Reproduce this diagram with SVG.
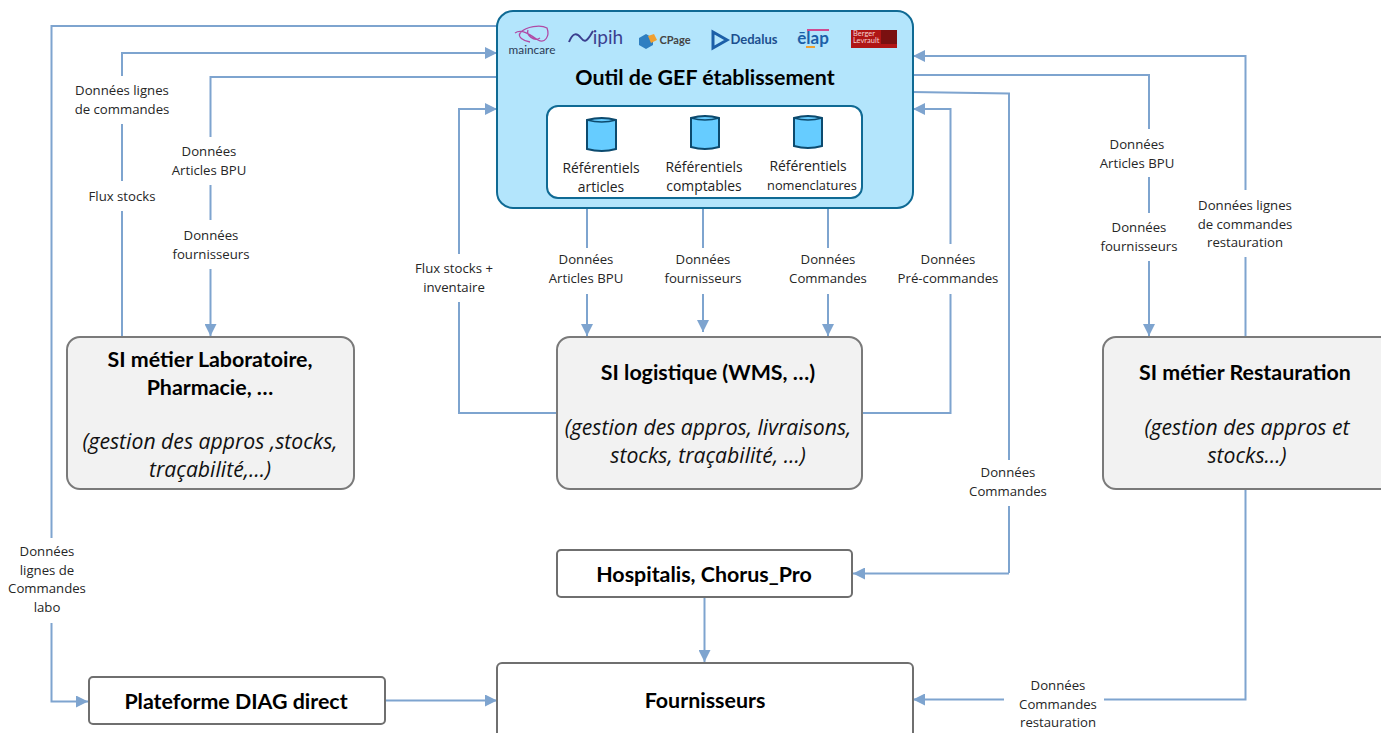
<svg xmlns="http://www.w3.org/2000/svg" width="1381" height="733" viewBox="0 0 1381 733">
<style>
.c{fill:none;stroke:#7ea4cf;stroke-width:2}
.ca{fill:none;stroke:#7ea4cf;stroke-width:2;marker-end:url(#a)}
.l{font:13.2px "Open Sans",sans-serif;fill:#262626;text-anchor:middle}
.r{font:13.9px "Open Sans",sans-serif;fill:#222;text-anchor:middle}
.t{font:bold 21.4px Lato,"Liberation Sans",sans-serif;fill:#000;text-anchor:middle}
.i{font:italic 21.2px "Open Sans",sans-serif;fill:#111;text-anchor:middle}
.g{fill:#f2f2f2;stroke:#7a7a7a;stroke-width:2}
.w{fill:#fff;stroke:#6f6f6f;stroke-width:2}
.d{fill:#66ccff;stroke:#0c4a6e;stroke-width:2}
</style>
<defs><marker id="a" markerUnits="userSpaceOnUse" markerWidth="13" markerHeight="12" refX="12" refY="6" orient="auto"><path d="M0 0L12 6L0 12Z" fill="#7ea4cf"/></marker></defs>
<rect width="1381" height="733" fill="#fff"/>
<g id="connectors">
<path class="c" d="M497 26H51.500V552"/>
<path class="ca" d="M51.500 623V701.500H88"/>
<path class="ca" d="M122 336V53H497"/>
<path class="c" d="M497 77H210.500V270"/>
<path class="ca" d="M210.500 270V336"/>
<path class="ca" d="M557 413H459V109H497"/>
<path class="ca" d="M587 208V336"/>
<path class="ca" d="M703 204V332"/>
<path class="ca" d="M828 208V336"/>
<path class="ca" d="M862 413H950.500V109H913"/>
<path class="c" d="M912 92L1009 93.500V573"/>
<path class="ca" d="M1009 573.500H853"/>
<path class="ca" d="M912 75H1149V336"/>
<path class="ca" d="M1245.500 336V56H913"/>
<path class="ca" d="M1245.500 490V699.500H913"/>
<path class="ca" d="M704.500 598V662"/>
<path class="ca" d="M385 700.500H497"/>
</g>
<g id="connector-labels">
<g fill="#fff">
<rect x="70" y="76" width="105" height="48"/><rect x="85" y="181" width="75" height="30"/><rect x="165" y="137" width="90" height="48"/><rect x="165" y="220" width="90" height="49"/><rect x="410" y="254" width="90" height="48"/><rect x="545" y="248" width="85" height="46"/><rect x="660" y="248" width="85" height="46"/><rect x="785" y="248" width="85" height="46"/><rect x="892" y="244" width="110" height="50"/><rect x="965" y="460" width="85" height="46"/><rect x="1095" y="129" width="85" height="48"/><rect x="1095" y="213" width="85" height="48"/><rect x="1195" y="190" width="105" height="67"/><rect x="5" y="538" width="85" height="84"/><rect x="1004" y="672" width="100" height="60"/>
</g>
<text class="l"><tspan x="122" y="95">Données lignes</tspan><tspan x="122" y="114">de commandes</tspan></text>
<text class="l" x="122" y="201">Flux stocks</text>
<text class="l"><tspan x="209" y="156">Données</tspan><tspan x="209" y="175">Articles BPU</tspan></text>
<text class="l"><tspan x="211" y="240">Données</tspan><tspan x="211" y="259">fournisseurs</tspan></text>
<text class="l"><tspan x="454" y="273">Flux stocks +</tspan><tspan x="454" y="292">inventaire</tspan></text>
<text class="l"><tspan x="586" y="264">Données</tspan><tspan x="586" y="283">Articles BPU</tspan></text>
<text class="l"><tspan x="703" y="264">Données</tspan><tspan x="703" y="283">fournisseurs</tspan></text>
<text class="l"><tspan x="828" y="264">Données</tspan><tspan x="828" y="283">Commandes</tspan></text>
<text class="l"><tspan x="948" y="264">Données</tspan><tspan x="948" y="283">Pré-commandes</tspan></text>
<text class="l"><tspan x="1008" y="477">Données</tspan><tspan x="1008" y="496">Commandes</tspan></text>
<text class="l"><tspan x="1137" y="149">Données</tspan><tspan x="1137" y="168">Articles BPU</tspan></text>
<text class="l"><tspan x="1139" y="232">Données</tspan><tspan x="1139" y="251">fournisseurs</tspan></text>
<text class="l"><tspan x="1245" y="210">Données lignes</tspan><tspan x="1245" y="229">de commandes</tspan><tspan x="1245" y="247">restauration</tspan></text>
<text class="l"><tspan x="47" y="556">Données</tspan><tspan x="47" y="575">lignes de</tspan><tspan x="47" y="593">Commandes</tspan><tspan x="47" y="612">labo</tspan></text>
<text class="l"><tspan x="1058" y="690">Données</tspan><tspan x="1058" y="709">Commandes</tspan><tspan x="1058" y="727">restauration</tspan></text>
</g>
<g id="outil-gef">
<rect x="497" y="11" width="416" height="197" rx="16" fill="#b3e5fc" stroke="#0f6a94" stroke-width="2"/>
<g id="logos">
<path d="M515 33C522 28 532 36 538 40C545 44 550 36 547 28C540 24 526 27 521 32C516 37 524 41 530 42M528 30C526 35 534 42 540 38" fill="none" stroke="#b04aa5" stroke-width="1.300"/>
<text x="532" y="54" font-family="Lato,sans-serif" font-size="11.800" fill="#2b3a55" text-anchor="middle">maincare</text>
<path d="M569 42C573 32 577 33 581 38C584 42 586 42 590 36L593 31" fill="none" stroke="#3b3f8f" stroke-width="2"/>
<text x="608" y="44" font-family="Lato,sans-serif" font-size="19" fill="#3b3f8f" text-anchor="middle">ipih</text>
<path d="M639 38L646 34L653 38V45L646 49L639 45Z" fill="#2f7fc1"/><path d="M648 36L654 34L657 40L651 43Z" fill="#f0a030"/>
<text x="675" y="44" font-family="Lato,sans-serif" font-weight="bold" font-size="11" fill="#444" text-anchor="middle">CPage</text>
<path d="M713 32L727 40L713 48Z" fill="none" stroke="#1c5fa8" stroke-width="3"/>
<text x="754" y="44" font-family="Lato,sans-serif" font-weight="bold" font-size="13" fill="#1c4f8f" text-anchor="middle">Dedalus</text>
<text x="813" y="44" font-family="Lato,sans-serif" font-weight="bold" font-size="17" fill="#1c5fa8" text-anchor="middle">ēlap</text>
<rect x="807" y="29" width="22" height="2" fill="#d04a90"/>
<rect x="806" y="46" width="9" height="2" fill="#f0a030"/>
<rect x="851" y="30" width="46" height="18" fill="#b01515"/>
<rect x="881" y="30" width="16" height="14" fill="#7a1010"/>
<text x="853" y="36" font-family="Lato,sans-serif" font-size="7.500" fill="#f5d0d0">Berger</text>
<text x="853" y="43" font-family="Lato,sans-serif" font-size="7.500" fill="#f5d0d0">Levrault</text>
</g>
<text class="t" x="705" y="85">Outil de GEF établissement</text>
<rect x="547" y="106" width="315" height="92" rx="11" fill="#fff" stroke="#0f6a94" stroke-width="2"/>
<g id="ref-articles"><path class="d" d="M587 120V149Q602 153 616 149V120Q602 116 587 120Z"/><path d="M587 120Q602 124 616 120" fill="none" stroke="#0c4a6e" stroke-width="1.500"/><text class="r"><tspan x="601" y="173">Référentiels</tspan><tspan x="601" y="192">articles</tspan></text></g>
<g id="ref-comptables"><path class="d" d="M691 118V147Q705 151 719 147V118Q705 114 691 118Z"/><path d="M691 118Q705 122 719 118" fill="none" stroke="#0c4a6e" stroke-width="1.500"/><text class="r"><tspan x="704" y="172">Référentiels</tspan><tspan x="704" y="191">comptables</tspan></text></g>
<g id="ref-nomenclatures"><path class="d" d="M794 118V146Q808 150 822 146V118Q808 114 794 118Z"/><path d="M794 118Q808 122 822 118" fill="none" stroke="#0c4a6e" stroke-width="1.500"/><text class="r" x="808" y="171">Référentiels</text><text class="r" x="812" y="190" style="font-size:12.800px">nomenclatures</text></g>
</g>
<g id="si-labo">
<rect class="g" x="67" y="337" width="287" height="152" rx="13"/>
<text class="t"><tspan x="210" y="367">SI métier Laboratoire,</tspan><tspan x="210" y="395">Pharmacie, …</tspan></text>
<text class="i"><tspan x="210" y="449">(gestion des appros ,stocks,</tspan><tspan x="210" y="477">traçabilité,…)</tspan></text>
</g>
<g id="si-logistique">
<rect class="g" x="557" y="337" width="305" height="152" rx="13"/>
<text class="t" x="708" y="380">SI logistique (WMS, …)</text>
<text class="i"><tspan x="708" y="435">(gestion des appros, livraisons,</tspan><tspan x="708" y="463">stocks, traçabilité, …)</tspan></text>
</g>
<g id="si-restauration">
<rect class="g" x="1103" y="337" width="290" height="152" rx="13"/>
<text class="t" x="1245" y="380">SI métier Restauration</text>
<text class="i"><tspan x="1247" y="435">(gestion des appros et</tspan><tspan x="1247" y="463">stocks…)</tspan></text>
</g>
<g id="hospitalis">
<rect class="w" x="557" y="550" width="295" height="47" rx="4"/>
<text class="t" x="704" y="582">Hospitalis, Chorus_Pro</text>
</g>
<g id="diag-direct">
<rect class="w" x="89" y="677" width="296" height="47" rx="4"/>
<text class="t" x="236" y="709">Plateforme DIAG direct</text>
</g>
<g id="fournisseurs">
<rect class="w" x="497" y="663" width="416" height="90" rx="5"/>
<text class="t" x="705" y="708">Fournisseurs</text>
</g>
</svg>
